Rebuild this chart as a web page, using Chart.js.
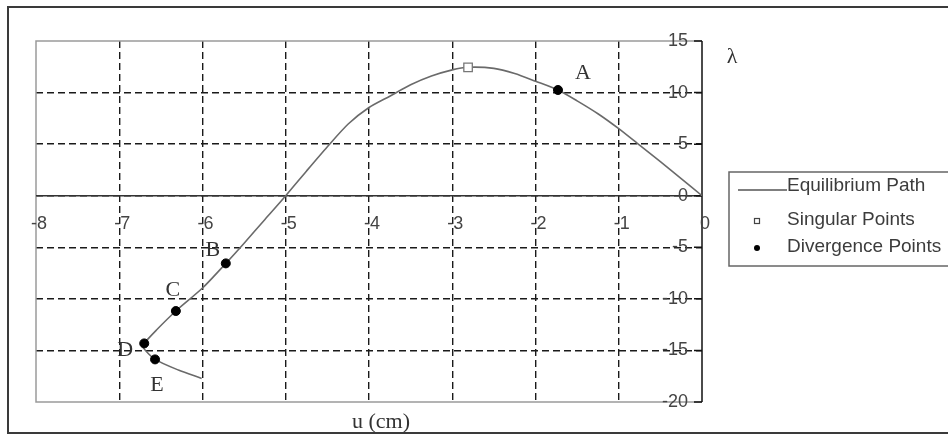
<!DOCTYPE html>
<html>
<head>
<meta charset="utf-8">
<script src="https://cdn.jsdelivr.net/npm/chart.js@4/dist/chart.umd.min.js"></script>
<style>
  html, body { margin: 0; padding: 0; background: #fff; }
  canvas { display: block; }
</style>
</head>
<body>
<canvas id="pathchart" width="948" height="435"></canvas>
<script>
// equilibrium path (u in cm, load factor lambda)
const pathU = [0, -0.25, -0.5, -0.75, -1.0, -1.25, -1.5, -1.73, -2.0, -2.25, -2.5, -2.81, -3.0, -3.25, -3.5, -3.75, -4.0, -4.25, -4.5, -4.75, -5.0, -5.25, -5.5, -5.72, -6.0, -6.32, -6.55, -6.70, -6.71, -6.57, -6.29, -6.01];
const pathLambda = [0, 1.65, 3.3, 4.9, 6.5, 7.95, 9.2, 10.25, 11.1, 11.85, 12.35, 12.45, 12.2, 11.6, 10.75, 9.65, 8.55, 6.95, 4.75, 2.4, 0, -2.3, -4.6, -6.56, -8.95, -11.18, -13.0, -14.32, -14.75, -15.87, -16.9, -17.71];

const singularU = [-2.81];
const singularLambda = [12.45];

const divergenceNames = ['A', 'B', 'C', 'D', 'E'];
const divergenceU = [-1.73, -5.72, -6.32, -6.70, -6.57];
const divergenceLambda = [10.25, -6.56, -11.18, -14.32, -15.87];

const uTicks = [-8, -7, -6, -5, -4, -3, -2, -1, 0];
const lambdaTicks = [15, 10, 5, 0, -5, -10, -15, -20];

function toPoints(xs, ys) {
    return xs.map((v, i) => ({ x: v, y: ys[i] }));
}

// where each letter sits relative to its point
const nameOffsets = { A: [25, -17], B: [-13, -13], C: [-3, -21], D: [-19, 7], E: [2, 26] };

const decor = {
    id: 'decor',
    beforeDraw(chart) {
        const ctx = chart.ctx;
        ctx.save();
        ctx.fillStyle = '#fff';
        ctx.fillRect(0, 0, chart.width, chart.height);
        ctx.restore();
    },
    beforeDatasetsDraw(chart) {
        const { ctx, chartArea: a, scales: { x, y } } = chart;
        const x0 = x.getPixelForValue(0);
        const y0 = y.getPixelForValue(0);
        ctx.save();
        // light frame on left, top, bottom
        ctx.strokeStyle = '#9a9a9a';
        ctx.lineWidth = 1.5;
        ctx.beginPath();
        ctx.moveTo(a.right, a.top); ctx.lineTo(a.left, a.top);
        ctx.lineTo(a.left, a.bottom); ctx.lineTo(a.right, a.bottom);
        ctx.stroke();
        // lambda = 0 axis
        ctx.strokeStyle = '#333';
        ctx.beginPath();
        ctx.moveTo(a.left, y0); ctx.lineTo(a.right, y0);
        ctx.stroke();
        // u = 0 axis with its ticks
        ctx.strokeStyle = '#111';
        ctx.beginPath();
        ctx.moveTo(x0, a.top); ctx.lineTo(x0, a.bottom);
        lambdaTicks.forEach(v => {
            const py = y.getPixelForValue(v);
            ctx.moveTo(x0 - 8, py); ctx.lineTo(x0, py);
        });
        ctx.stroke();
        ctx.restore();
    },
    afterDraw(chart) {
        const { ctx, scales: { x, y } } = chart;
        const x0 = x.getPixelForValue(0);
        const y0 = y.getPixelForValue(0);
        ctx.save();

        // outer box
        ctx.strokeStyle = '#3a3a3a';
        ctx.lineWidth = 2;
        ctx.strokeRect(8, 7, chart.width + 20, 426);

        // tick labels
        ctx.fillStyle = '#444';
        ctx.font = '18px "Liberation Sans", Arial, sans-serif';
        ctx.textBaseline = 'middle';
        ctx.textAlign = 'center';
        uTicks.forEach(v => ctx.fillText(String(v), x.getPixelForValue(v) + 3, y0 + 28));
        ctx.textAlign = 'right';
        lambdaTicks.forEach(v => ctx.fillText(String(v), x0 - 14, y.getPixelForValue(v)));

        // axis names
        ctx.fillStyle = '#333';
        ctx.font = '22px "Liberation Serif", "Times New Roman", serif';
        ctx.textAlign = 'center';
        ctx.fillText('λ', x0 + 30, 57);
        ctx.fillText('u (cm)', (x.getPixelForValue(-8) + x0) / 2 + 12, 422);

        // point names
        divergenceNames.forEach((n, i) => {
            const off = nameOffsets[n];
            ctx.fillText(n, x.getPixelForValue(divergenceU[i]) + off[0], y.getPixelForValue(divergenceLambda[i]) + off[1]);
        });

        // legend
        const lx = 729, ly = 172;
        ctx.strokeStyle = '#666';
        ctx.lineWidth = 1.5;
        ctx.strokeRect(lx, ly, chart.width, 94);
        const rows = chart.data.datasets.map(ds => ds.label);
        const rowY = [186, 220, 247];
        ctx.font = '19px "Liberation Sans", Arial, sans-serif';
        ctx.textAlign = 'left';
        ctx.fillStyle = '#3c3c3c';
        rows.forEach((label, i) => ctx.fillText(label, 787, rowY[i]));
        ctx.strokeStyle = '#555';
        ctx.lineWidth = 1.3;
        ctx.beginPath();
        ctx.moveTo(738, 190); ctx.lineTo(787, 190);
        ctx.stroke();
        ctx.strokeStyle = '#444';
        ctx.lineWidth = 1.2;
        ctx.strokeRect(754.5, 218.5, 5, 5);
        ctx.fillStyle = '#000';
        ctx.beginPath();
        ctx.arc(757, 248, 3, 0, Math.PI * 2);
        ctx.fill();

        ctx.restore();
    }
};

document.addEventListener("DOMContentLoaded", function () {
    const ctx = document.getElementById('pathchart').getContext('2d');
    // dashed grid, but leave the frame edges to the solid lines
    const gridLines = {
        color: c => (c.scale && (c.tick.value === c.scale.min || c.tick.value === c.scale.max)) ? 'rgba(0,0,0,0)' : '#1a1a1a',
        lineWidth: 1.4,
        drawTicks: false
    };
    const pathChart = new Chart(ctx, {
        type: 'scatter',
        data: {
            datasets: [{
                label: 'Equilibrium Path',
                data: toPoints(pathU, pathLambda),
                showLine: true,
                borderColor: '#6a6a6a',
                borderWidth: 1.6,
                pointRadius: 0,
                tension: 0.25,
                order: 3
            }, {
                label: 'Singular Points',
                data: toPoints(singularU, singularLambda),
                pointStyle: 'rect',
                pointRadius: 6,
                borderColor: '#777',
                borderWidth: 1.3,
                backgroundColor: '#fff',
                order: 2
            }, {
                label: 'Divergence Points',
                data: toPoints(divergenceU, divergenceLambda),
                pointStyle: 'circle',
                pointRadius: 4.5,
                borderColor: '#000',
                backgroundColor: '#000',
                order: 1
            }]
        },
        options: {
            responsive: false,
            animation: false,
            devicePixelRatio: 1,
            layout: { padding: { left: 36, top: 41, right: 246, bottom: 33 } },
            scales: {
                x: {
                    type: 'linear',
                    min: -8,
                    max: 0,
                    afterBuildTicks: s => { s.ticks = uTicks.map(v => ({ value: v })); },
                    ticks: { display: false },
                    grid: gridLines,
                    border: { display: false, dash: [7, 4] }
                },
                y: {
                    type: 'linear',
                    min: -20,
                    max: 15,
                    afterBuildTicks: s => { s.ticks = lambdaTicks.map(v => ({ value: v })); },
                    ticks: { display: false },
                    grid: gridLines,
                    border: { display: false, dash: [7, 4] }
                }
            },
            plugins: {
                legend: { display: false },
                tooltip: { enabled: false }
            }
        },
        plugins: [decor]
    });
});
</script>
</body>
</html>
